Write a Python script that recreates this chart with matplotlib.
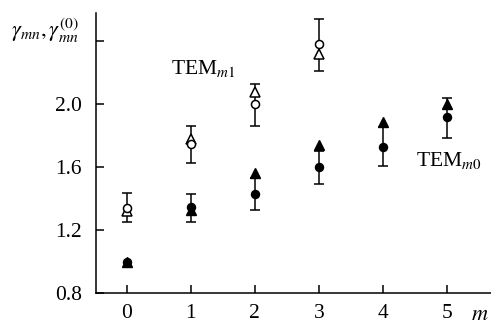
import matplotlib
matplotlib.use("Agg")
import matplotlib.pyplot as plt

plt.rcParams['font.family'] = ['Liberation Serif', 'DejaVu Serif']
plt.rcParams['mathtext.fontset'] = 'stix'

m = [0, 1, 2, 3, 4, 5]

# TEM_m1 (upper group): open circles with error bars, open triangles
m1_m = [0, 1, 2, 3]
m1_circ = [1.34, 1.745, 2.00, 2.38]
m1_lo = [1.25, 1.625, 1.86, 2.21]
m1_hi = [1.435, 1.86, 2.13, 2.54]
m1_tri = [1.32, 1.78, 2.075, 2.32]

# TEM_m0 (lower group): filled circles with error bars, filled triangles
m0_circ = [1.00, 1.345, 1.43, 1.60, 1.73, 1.92]
m0_lo = [1.00, 1.25, 1.33, 1.49, 1.61, 1.785]
m0_hi = [1.00, 1.43, 1.53, 1.70, 1.855, 2.04]
m0_tri = [1.00, 1.33, 1.56, 1.74, 1.89, 2.00]

fig = plt.figure(figsize=(4.91, 3.25), dpi=100)
ax = fig.add_axes([0.1955, 0.0985, 0.8045, 0.8615])

err_kw = dict(fmt='none', ecolor='black', elinewidth=1.1, capsize=3.5, capthick=1.1)

yerr1 = [[c - l for c, l in zip(m1_circ, m1_lo)], [h - c for c, h in zip(m1_circ, m1_hi)]]
ax.errorbar(m1_m, m1_circ, yerr=yerr1, **err_kw)
yerr0 = [[c - l for c, l in zip(m0_circ, m0_lo)], [h - c for c, h in zip(m0_circ, m0_hi)]]
ax.errorbar(m[1:], m0_circ[1:], yerr=[yerr0[0][1:], yerr0[1][1:]], **err_kw)

ax.plot(m1_m, m1_tri, linestyle='none', marker='^', markersize=7,
        markerfacecolor='white', markeredgecolor='black', markeredgewidth=1.1)
ax.plot(m1_m, m1_circ, linestyle='none', marker='o', markersize=5.8,
        markerfacecolor='white', markeredgecolor='black', markeredgewidth=1.1)
ax.plot(m, m0_tri, linestyle='none', marker='^', markersize=7, color='black')
ax.plot(m, m0_circ, linestyle='none', marker='o', markersize=5.8, color='black')

ax.set_xlim(-0.48, 5.69)
ax.set_ylim(0.8, 2.58)
ax.set_xticks(m)
ax.set_yticks([0.8, 1.2, 1.6, 2.0, 2.4])
ax.set_yticklabels(['0.8', '1.2', '1.6', '2.0', ''])
ax.tick_params(direction='in', length=6, width=1.1, labelsize=15.5, pad=10)
ax.tick_params(axis='x', pad=8)
for side in ['top', 'right']:
    ax.spines[side].set_visible(False)
for side in ['left', 'bottom']:
    ax.spines[side].set_linewidth(1.1)

ax.text(1.19, 2.23, r'TEM$_{m1}$', fontsize=15.5, ha='center', va='center')
ax.text(5.03, 1.645, r'TEM$_{m0}$', fontsize=15.5, ha='center', va='center')

fig.text(0.092, 0.905, r'$\gamma_{mn}, \gamma_{mn}^{(0)}$', fontsize=16, ha='center', va='center')
fig.text(0.978, 0.03, r'$m$', fontsize=16, ha='center', va='center')

fig.savefig('out.png', dpi=100)
